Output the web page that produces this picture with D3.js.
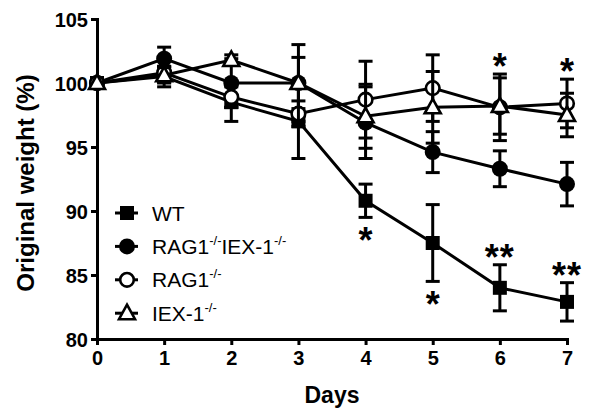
<!DOCTYPE html>
<html>
<head>
<meta charset="utf-8">
<script src="https://cdn.jsdelivr.net/npm/d3@7"></script>
<style>
  body { margin: 0; background: #fff; }
  svg text { font-family: "Liberation Sans", Arial, sans-serif; fill: #000; }
</style>
</head>
<body>
<div id="chart"></div>
<script>
const width = 600;
const height = 420;

// weight data (% of original)
const days = [0, 1, 2, 3, 4, 5, 6, 7];
const wt        = [100, 100.5, 98.5, 97.0, 90.8, 87.5, 84.0, 82.9];
const wtErr     = [0, 0.8, 1.5, 2.9, 1.3, 3.0, 1.8, 1.5];
const ragIex    = [100, 101.9, 100.0, 100.0, 96.9, 94.6, 93.3, 92.1];
const ragIexErr = [0, 0.9, 1.9, 2.0, 2.8, 1.6, 1.4, 1.7];
const rag       = [100, 100.8, 98.9, 97.6, 98.7, 99.6, 98.1, 98.4];
const ragErr    = [0, 0.5, 0.8, 1.0, 3.0, 2.6, 2.6, 1.9];
const iex       = [100, 100.6, 101.8, 100.0, 97.4, 98.1, 98.2, 97.5];
const iexErr    = [0, 0.6, 0.4, 3.0, 2.5, 2.8, 2.2, 1.7];

const yTicks = [80, 85, 90, 95, 100, 105];

// significance marks: which series and day, which side of the error bar
const marks = [
    { day: 4, key: "wt", label: "*", side: "below" },
    { day: 5, key: "wt", label: "*", side: "below" },
    { day: 6, key: "wt", label: "**", side: "above" },
    { day: 7, key: "wt", label: "**", side: "above" },
    { day: 6, key: "rag", label: "*", side: "above" },
    { day: 7, key: "rag", label: "*", side: "above" }
];

const series = [
    { key: "wt", name: "WT", sup: null, values: wt, err: wtErr, shape: "square" },
    { key: "ragIex", name: "RAG1", sup: "IEX-1", values: ragIex, err: ragIexErr, shape: "circle" },
    { key: "rag", name: "RAG1", sup: "", values: rag, err: ragErr, shape: "open" },
    { key: "iex", name: "IEX-1", sup: "", values: iex, err: iexErr, shape: "triangle" }
];

const svg = d3.select("#chart").append("svg")
    .attr("width", width)
    .attr("height", height);

const x = d3.scaleLinear().domain([0, 7]).range([97, 567]);
const y = d3.scaleLinear().domain([80, 105]).range([339, 19]);

// axes
const yAxis = svg.append("g")
    .attr("transform", `translate(${x(0)},0)`)
    .call(d3.axisLeft(y).tickValues(yTicks).tickFormat(d3.format("d"))
        .tickSize(6).tickSizeOuter(0).tickPadding(3));
const xAxis = svg.append("g")
    .attr("transform", `translate(0,${y(80)})`)
    .call(d3.axisBottom(x).tickValues(days).tickFormat(d3.format("d"))
        .tickSize(6).tickSizeOuter(0).tickPadding(6));

[yAxis, xAxis].forEach(a => {
    a.select(".domain").attr("stroke", "#000").attr("stroke-width", 3).attr("stroke-linecap", "square");
    a.selectAll(".tick line").attr("stroke", "#000").attr("stroke-width", 3);
    a.selectAll(".tick text")
        .style("font-size", "20px")
        .style("font-weight", "bold");
});
yAxis.selectAll(".tick text").attr("dy", "0.36em");

svg.append("text")
    .attr("transform", `translate(34,${(y(80) + y(105)) / 2 + 4}) rotate(-90)`)
    .attr("text-anchor", "middle")
    .style("font-size", "24px")
    .style("font-weight", "bold")
    .text("Original weight (%)");

svg.append("text")
    .attr("x", (x(0) + x(7)) / 2)
    .attr("y", 403)
    .attr("text-anchor", "middle")
    .style("font-size", "23px")
    .style("font-weight", "bold")
    .text("Days");

// marker drawing
function drawMarker(sel, shape) {
    if (shape === "square") {
        sel.append("rect").attr("x", -7).attr("y", -7).attr("width", 14).attr("height", 14).attr("fill", "#000");
    } else if (shape === "circle") {
        sel.append("circle").attr("r", 8).attr("fill", "#000");
    } else if (shape === "open") {
        sel.append("circle").attr("r", 6.8).attr("fill", "#fff").attr("stroke", "#000").attr("stroke-width", 2.6);
    } else {
        sel.append("path").attr("d", "M0,-8.5L8,6L-8,6Z")
            .attr("fill", "#fff").attr("stroke", "#000").attr("stroke-width", 2.6).attr("stroke-linejoin", "miter");
    }
}

const line = d3.line().x((d, i) => x(days[i])).y(d => y(d));

// error bars first, then lines, then markers per series
series.forEach(s => {
    const g = svg.append("g").attr("class", "series-" + s.key);
    const eb = g.selectAll(".err").data(days.filter((d, i) => s.err[i] > 0)).enter()
        .append("g").attr("class", "err");
    eb.append("line")
        .attr("x1", d => x(d)).attr("x2", d => x(d))
        .attr("y1", d => y(s.values[d] + s.err[d]))
        .attr("y2", d => y(s.values[d] - s.err[d]))
        .attr("stroke", "#000").attr("stroke-width", 3);
    [1, -1].forEach(sign => {
        eb.append("line")
            .attr("x1", d => x(d) - 7).attr("x2", d => x(d) + 7)
            .attr("y1", d => y(s.values[d] + sign * s.err[d]))
            .attr("y2", d => y(s.values[d] + sign * s.err[d]))
            .attr("stroke", "#000").attr("stroke-width", 3);
    });
    g.append("path")
        .datum(s.values)
        .attr("d", line)
        .attr("fill", "none")
        .attr("stroke", "#000")
        .attr("stroke-width", 3);
    g.selectAll(".pt").data(s.values).enter()
        .append("g").attr("class", "pt")
        .attr("transform", (d, i) => `translate(${x(days[i])},${y(d)})`)
        .each(function () { drawMarker(d3.select(this), s.shape); });
});

// asterisks
const byKey = {};
series.forEach(s => byKey[s.key] = s);
marks.forEach(m => {
    const s = byKey[m.key];
    const v = s.values[m.day];
    const e = s.err[m.day];
    const cy = m.side === "below" ? y(v - e) + 16 : y(v + e) - 15;
    svg.append("text")
        .attr("x", x(m.day))
        .attr("y", cy + 20)
        .attr("text-anchor", "middle")
        .style("font-size", "36px")
        .style("font-weight", "bold")
        .style("letter-spacing", m.label.length > 1 ? "1px" : "0px")
        .text(m.label);
});

// legend
const legend = svg.append("g").attr("transform", "translate(127,213)");
series.forEach((s, i) => {
    const row = legend.append("g").attr("transform", `translate(0,${i * 33.4})`);
    row.append("line").attr("x1", -12).attr("x2", 11).attr("stroke", "#000").attr("stroke-width", 3);
    drawMarker(row, s.shape);
    const t = row.append("text").attr("x", 25).attr("y", 7.5).style("font-size", "21px");
    t.append("tspan").text(s.name);
    if (s.sup !== null) {
        t.append("tspan").attr("dy", -9).style("font-size", "13px").text("-/-");
        if (s.sup) {
            t.append("tspan").attr("dy", 9).style("font-size", "21px").text(s.sup);
            t.append("tspan").attr("dy", -9).style("font-size", "13px").text("-/-");
        }
    }
});
</script>
</body>
</html>
